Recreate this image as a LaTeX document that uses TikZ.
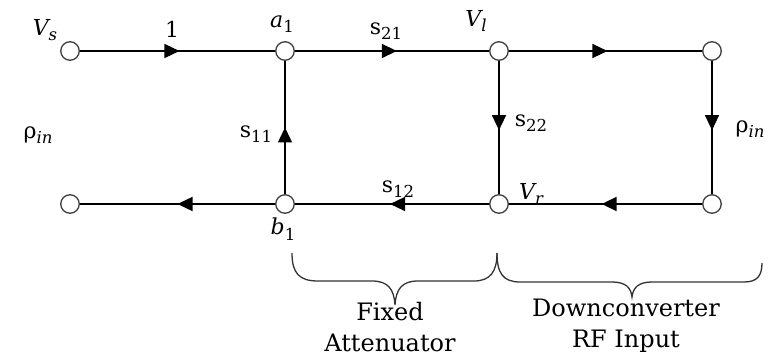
\documentclass[tikz,border=0pt]{standalone}
\usepackage{fontspec}
\setmainfont{DejaVu Serif}
\usetikzlibrary{arrows.meta,decorations.markings}
\newcommand\mylab[2]{#1\raisebox{-5.5pt}{\fontsize{16.5}{16.5}\selectfont\upshape #2}}
\begin{document}
\begin{tikzpicture}[x=1pt,y=-1pt,
  port/.style={circle,draw=black!75,fill=white,line width=1.3pt,minimum size=18.5pt,inner sep=0pt},
  wire/.style={line width=1.4pt,black},
  midarrow/.style={postaction={decorate},decoration={markings,mark=at position #1 with {\arrow{Triangle[length=15pt,width=14pt]}}}},
  midarrow/.default=0.5,
  lab/.style={font=\fontsize{22}{26}\selectfont,inner sep=0pt},
  bigtxt/.style={font=\fontsize{24}{31}\selectfont,align=center,inner sep=0pt},
  brace/.style={line width=1.3pt,black!80}]
\useasboundingbox (0,0) rectangle (773,358);
% ports
\node[port] (vs) at (70,51) {};
\node[port] (a1) at (285,51) {};
\node[port] (vl) at (499,51) {};
\node[port] (tr) at (712,51) {};
\node[port] (lo) at (70,204) {};
\node[port] (b1) at (285,204) {};
\node[port] (vr) at (499,204) {};
\node[port] (br) at (712,204) {};
% branches
\draw[wire,midarrow=0.51] (vs) -- (a1);
\draw[wire,midarrow=0.525] (a1) -- (vl);
\draw[wire,midarrow=0.51] (vl) -- (tr);
\draw[wire,midarrow=0.52] (tr) -- (br);
\draw[wire,midarrow=0.52] (br) -- (vr);
\draw[wire,midarrow=0.51] (vr) -- (b1);
\draw[wire,midarrow=0.5] (b1) -- (lo);
\draw[wire,midarrow=0.5] (b1) -- (a1);
\draw[wire,midarrow=0.52] (vl) -- (vr);
% labels
\node[lab] (lvs) at (45,30) {\mylab{\itshape V}{\itshape s}};
\node[lab] (lone) at (172,29) {1};
\node[lab] (la1) at (282,24) {\mylab{\itshape a}{1}};
\node[lab] (ls21) at (386,31) {\mylab{s}{21}};
\node[lab] (lvl) at (476,21) {\mylab{\itshape V}{\itshape l}};
\node[lab] (ls22) at (531,123) {\mylab{s}{22}};
\node[lab] (lrho2) at (750,129) {\mylab{ρ}{\itshape in}};
\node[lab] (lrho1) at (38,135) {\mylab{ρ}{\itshape in}};
\node[lab] (ls11) at (256,134) {\mylab{s}{11}};
\node[lab] (ls12) at (398,189) {\mylab{s}{12}};
\node[lab] (lvr) at (531,194) {\mylab{\itshape V}{\itshape r}};
\node[lab] (lb1) at (283,229) {\mylab{\itshape b}{1}};
% braces
\draw[brace] (292,253) .. controls (292,273) and (299,281) .. (318,281)
  -- (372,281) .. controls (388,281) and (394,289) .. (395,305)
  .. controls (396,289) and (402,281) .. (418,281)
  -- (474,281) .. controls (490,281) and (497,272) .. (497,253);
\draw[brace] (497,253) .. controls (497,273) and (503,282) .. (520,282)
  -- (612,282) .. controls (626,282) and (631,288) .. (632,297)
  .. controls (633,288) and (638,282) .. (652,282)
  -- (744,282) .. controls (757,282) and (762,276) .. (762,263);
% texts
\node[bigtxt,anchor=base] (fa) at (390,351) {Fixed\\Attenuator};
\node[bigtxt,anchor=base] (dc) at (626,347) {Downconverter\\RF Input};
\end{tikzpicture}
\end{document}
